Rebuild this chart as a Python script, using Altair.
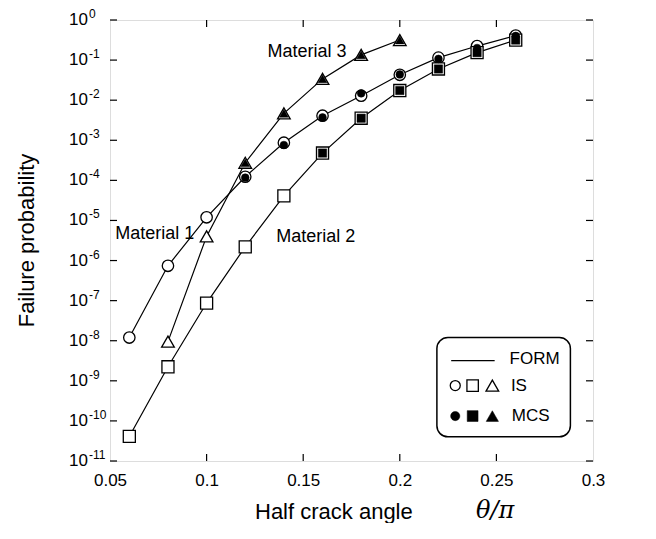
import altair as alt
import pandas as pd

# ---- data ----
theta = [0.06, 0.08, 0.10, 0.12, 0.14, 0.16, 0.18, 0.20, 0.22, 0.24, 0.26]

m1_is = [1.2e-8, 7.4e-7, 1.2e-5, 1.23e-4, 8.7e-4, 4.1e-3, 1.29e-2, 4.3e-2, 0.115, 0.224, 0.41]
m1_mcs_theta = [0.12, 0.14, 0.16, 0.18, 0.20, 0.22, 0.24, 0.26]
m1_mcs = [1.17e-4, 7.6e-4, 3.7e-3, 1.48e-2, 4.4e-2, 0.107, 0.20, 0.40]

m2_is = [4.1e-11, 2.24e-9, 8.7e-8, 2.2e-6, 4.1e-5, 4.8e-4, 3.55e-3, 1.74e-2, 6.0e-2, 0.153, 0.316]
m2_mcs_theta = [0.16, 0.18, 0.20, 0.22, 0.24, 0.26]
m2_mcs = [4.8e-4, 3.55e-3, 1.74e-2, 6.0e-2, 0.153, 0.316]

m3_theta = [0.08, 0.10, 0.12, 0.14, 0.16, 0.18, 0.20]
m3_is = [9.5e-9, 4.0e-6, 2.75e-4, 4.7e-3, 3.4e-2, 0.135, 0.316]
m3_mcs_theta = [0.12, 0.14, 0.16, 0.18, 0.20]
m3_mcs = [2.75e-4, 4.7e-3, 3.4e-2, 0.135, 0.316]

materials = ["Material 1", "Material 2", "Material 3"]
shapes = ["circle", "square", "triangle-up"]

x_ticks = [0.1, 0.15, 0.2, 0.25]
decades = [1, 1e-1, 1e-2, 1e-3, 1e-4, 1e-5, 1e-6, 1e-7, 1e-8, 1e-9, 1e-10, 1e-11]
exponents = ["0", "-1", "-2", "-3", "-4", "-5", "-6", "-7", "-8", "-9", "-10", "-11"]

ann_text = ["Material 1", "Material 2", "Material 3"]
ann_x = [0.0527, 0.136, 0.1315]
ann_y = [4.7e-6, 3.8e-6, 0.162]

# legend (in data coordinates)
leg_box_x = [0.2192, 0.2883]
leg_box_y = [1.2e-8, 4.0e-11]
leg_line_x = [0.2266, 0.2491]
leg_line_y = 3.2e-9
leg_labels = ["FORM", "IS", "MCS"]
leg_label_x = [0.2568, 0.2575, 0.2580]
leg_label_y = [3.5e-9, 7.6e-10, 1.32e-10]
leg_sym_x = [0.2287, 0.2377, 0.2479]
leg_is_y = 7.6e-10
leg_mcs_y = 1.32e-10

W, H = 483, 441
FONT = "Liberation Sans"

# ---- tables ----
is_df = pd.DataFrame({
    "theta": theta + theta + m3_theta,
    "p": m1_is + m2_is + m3_is,
    "mat": [materials[0]] * len(theta) + [materials[1]] * len(theta) + [materials[2]] * len(m3_theta),
})
mcs_df = pd.DataFrame({
    "theta": m1_mcs_theta + m2_mcs_theta + m3_mcs_theta,
    "p": m1_mcs + m2_mcs + m3_mcs,
    "mat": [materials[0]] * len(m1_mcs) + [materials[1]] * len(m2_mcs) + [materials[2]] * len(m3_mcs),
})

xs = alt.Scale(domain=[0.05, 0.3], nice=False, zero=False)
ys = alt.Scale(type="log", domain=[1e-11, 1], nice=False)
shape_scale = alt.Scale(domain=materials, range=shapes)

X = alt.X("theta:Q", scale=xs,
          axis=alt.Axis(values=[0.05, 0.1, 0.15, 0.2, 0.25, 0.3], format="~g", ticks=False,
                        domain=False, grid=False, labelFontSize=17, labelFont=FONT,
                        labelPadding=11, labelColor="black", labelFlush=False, title=None))
Y = alt.Y("p:Q", scale=ys,
          axis=alt.Axis(labels=False, ticks=False, domain=False, grid=False,
                        title="Failure probability", titleFont=FONT, titleFontSize=22,
                        titleFontWeight="normal", titleColor="black", titleAngle=270,
                        titleX=-84, titleY=220, titleAlign="center", titleBaseline="middle"))

lines = alt.Chart(is_df).mark_line(color="black", strokeWidth=1.2).encode(x=X, y=Y, detail="mat:N")

is_pts = alt.Chart(is_df).mark_point(filled=True, fill="white", stroke="black", strokeWidth=1.3, opacity=1).encode(
    x="theta:Q", y="p:Q",
    shape=alt.Shape("mat:N", scale=shape_scale, legend=None),
    size=alt.Size("mat:N", scale=alt.Scale(domain=materials, range=[130, 161, 175]), legend=None),
)
mcs_pts = alt.Chart(mcs_df).mark_point(filled=True, fill="black", stroke="black", strokeWidth=0.5, opacity=1).encode(
    x="theta:Q", y="p:Q",
    shape=alt.Shape("mat:N", scale=shape_scale, legend=None),
    size=alt.Size("mat:N", scale=alt.Scale(domain=materials, range=[60, 78, 175]), legend=None),
)

# inward ticks
ydf = pd.DataFrame({"p": decades, "e": exponents})
xdf = pd.DataFrame({"theta": x_ticks})
tick_l = alt.Chart(ydf).mark_rule(color="black", strokeWidth=1.2).encode(
    y="p:Q", x=alt.value(0), x2=alt.value(7))
tick_r = alt.Chart(ydf).mark_rule(color="black", strokeWidth=1.2).encode(
    y="p:Q", x=alt.value(W), x2=alt.value(W - 7))
tick_b = alt.Chart(xdf).mark_rule(color="black", strokeWidth=1.2).encode(
    x="theta:Q", y=alt.value(H), y2=alt.value(H - 7))
tick_t = alt.Chart(xdf).mark_rule(color="black", strokeWidth=1.2).encode(
    x="theta:Q", y=alt.value(0), y2=alt.value(7))

# y tick labels 10^n
lab_base = alt.Chart(ydf).mark_text(align="right", baseline="middle", fontSize=17, font=FONT,
                                    color="black").encode(
    y="p:Q", x=alt.value(-22), text=alt.value("10"))
lab_exp = alt.Chart(ydf).mark_text(align="left", baseline="middle", fontSize=12, font=FONT,
                                   color="black", dy=-6).encode(
    y="p:Q", x=alt.value(-21), text="e:N")

# annotations
ann_df = pd.DataFrame({"theta": ann_x, "p": ann_y, "t": ann_text})
ann = alt.Chart(ann_df).mark_text(align="left", baseline="middle", fontSize=18, font=FONT,
                                  color="black").encode(x="theta:Q", y="p:Q", text="t:N")

# legend
box_df = pd.DataFrame({"x1": [leg_box_x[0]], "x2": [leg_box_x[1]], "y1": [leg_box_y[0]], "y2": [leg_box_y[1]]})
box = alt.Chart(box_df).mark_rect(fill="white", stroke="black", strokeWidth=1.5, cornerRadius=11).encode(
    x="x1:Q", x2="x2:Q", y="y1:Q", y2="y2:Q")
lline_df = pd.DataFrame({"x1": [leg_line_x[0]], "x2": [leg_line_x[1]], "y": [leg_line_y]})
lline = alt.Chart(lline_df).mark_rule(color="black", strokeWidth=1.2).encode(x="x1:Q", x2="x2:Q", y="y:Q")
ltext_df = pd.DataFrame({"theta": leg_label_x, "p": leg_label_y, "t": leg_labels})
ltext = alt.Chart(ltext_df).mark_text(align="left", baseline="middle", fontSize=17, font=FONT,
                                      color="black").encode(x="theta:Q", y="p:Q", text="t:N")
lis_df = pd.DataFrame({"theta": leg_sym_x, "p": [leg_is_y] * 3, "mat": materials})
lis = alt.Chart(lis_df).mark_point(filled=True, fill="white", stroke="black", strokeWidth=1.3, opacity=1).encode(
    x="theta:Q", y="p:Q",
    shape=alt.Shape("mat:N", scale=shape_scale, legend=None),
    size=alt.Size("mat:N", scale=alt.Scale(domain=materials, range=[100, 160, 200]), legend=None),
)
lmcs_df = pd.DataFrame({"theta": leg_sym_x, "p": [leg_mcs_y] * 3, "mat": materials})
lmcs = alt.Chart(lmcs_df).mark_point(filled=True, fill="black", stroke="black", strokeWidth=0.5, opacity=1).encode(
    x="theta:Q", y="p:Q",
    shape=alt.Shape("mat:N", scale=shape_scale, legend=None),
    size=alt.Size("mat:N", scale=alt.Scale(domain=materials, range=[85, 150, 180]), legend=None),
)

# x title
xt1 = alt.Chart(pd.DataFrame({"t": ["Half crack angle"]})).mark_text(
    align="left", baseline="middle", fontSize=22, font=FONT, color="black").encode(
    x=alt.value(145), y=alt.value(H + 51), text="t:N")
xt2 = alt.Chart(pd.DataFrame({"t": ["θ/π"]})).mark_text(
    align="left", baseline="middle", fontSize=24, font="DejaVu Serif", fontStyle="italic",
    color="black").encode(x=alt.value(366), y=alt.value(H + 50), text="t:N")

chart = alt.layer(
    lines, is_pts, mcs_pts, tick_l, tick_r, tick_b, tick_t, lab_base, lab_exp, ann,
    box, lline, ltext, lis, lmcs, xt1, xt2
).resolve_scale(size="independent").properties(
    width=W, height=H,
    autosize=alt.AutoSizeParams(type="none"),
    padding={"left": 102, "top": 12, "right": 40, "bottom": 62},
).configure_view(stroke="black", strokeWidth=1.4).configure(background="white")

chart.save("out.html", embed_options={"renderer": "svg", "actions": False})
